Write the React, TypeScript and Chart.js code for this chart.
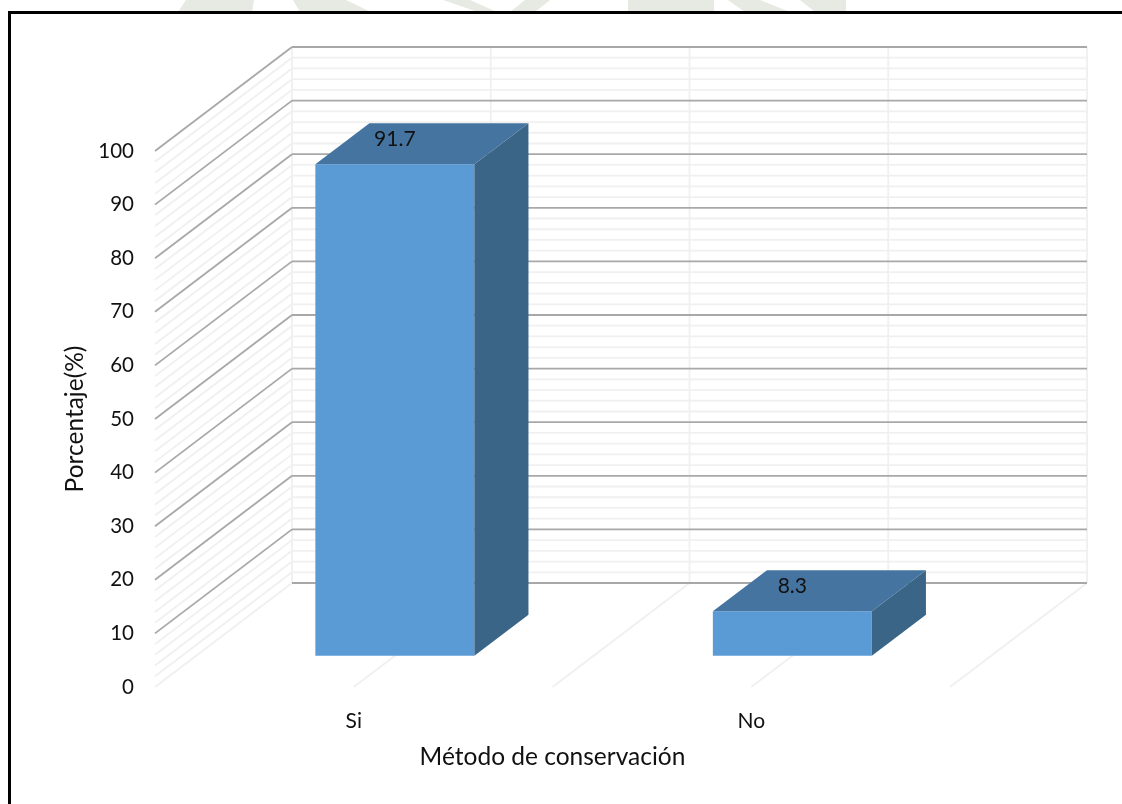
import { useEffect, useRef } from "react";
import { Chart, registerables } from "chart.js";

Chart.register(...registerables);

const categories = ["Si", "No"];
const percentages = [91.7, 8.3];
const valueMin = 0;
const valueMax = 100;
const majorStep = 10;
const minorStep = 2;
const yTitle = "Porcentaje(%)";
const xTitle = "Método de conservación";

const FONT = "Lato, Carlito, 'Open Sans', sans-serif";
const INK = "#111111";
const FRONT = "#5b9bd5";
const TOP = "#44749f";
const SIDE = "#3a6586";
const MAJOR = "#a8a8a8";
const MINOR = "#f0f0f0";

// Oblique projection of the box: depth of the whole floor, and where the bars sit in it.
const FLOOR_DX = 137;
const FLOOR_DY = 104;
const BAR_NEAR = 0.3;
const BAR_DEPTH = 0.395;

const shiftX = (f: number) => FLOOR_DX * f;
const shiftY = (f: number) => FLOOR_DY * f;

function line(ctx: CanvasRenderingContext2D, x0: number, y0: number, x1: number, y1: number) {
  ctx.beginPath();
  ctx.moveTo(x0, y0);
  ctx.lineTo(x1, y1);
  ctx.stroke();
}

function poly(ctx: CanvasRenderingContext2D, pts: number[][], fill: string) {
  ctx.fillStyle = fill;
  ctx.beginPath();
  pts.forEach(([x, y], i) => (i ? ctx.lineTo(x, y) : ctx.moveTo(x, y)));
  ctx.closePath();
  ctx.fill();
}

// Page backdrop: the faint seal showing above the frame, and the frame's top and left rules.
function drawBackdrop(ctx: CanvasRenderingContext2D, width: number, height: number) {
  ctx.fillStyle = "#ffffff";
  ctx.fillRect(0, 0, width, height);
  const seal = "#e6eae3";
  poly(ctx, [[178, 12], [186, 0], [254, 0], [252, 12]], seal);
  poly(ctx, [[293, 0], [346, 0], [371, 12], [300, 12]], seal);
  poly(ctx, [[443, 0], [470, 0], [497, 12], [478, 12]], seal);
  poly(ctx, [[525, 0], [550, 0], [535, 12], [510, 12]], seal);
  poly(ctx, [[628, 0], [714, 0], [714, 12], [628, 12]], seal);
  poly(ctx, [[728, 0], [760, 0], [790, 12], [745, 12]], seal);
  poly(ctx, [[800, 0], [846, 0], [846, 12], [815, 12]], seal);
  ctx.fillStyle = "#000000";
  ctx.fillRect(8, 11, width - 8, 3);
  ctx.fillRect(8, 11, 3, height - 11);
}

const box3d = {
  id: "box3d",
  beforeDraw(chart: any) {
    const { ctx, width, height, scales } = chart;
    const x = scales.x;
    const y = scales.y;
    drawBackdrop(ctx, width, height);

    const dx = shiftX(1);
    const dy = shiftY(1);
    const y0 = y.getPixelForValue(valueMin);
    const half = (x.getPixelForValue(1) - x.getPixelForValue(0)) / 2;
    const stops: number[] = [];
    for (let i = 0; i <= categories.length * 2; i++) stops.push(x.left + half * i);

    ctx.save();
    ctx.lineWidth = 1.8;

    // Minor rules on the side wall and the back wall.
    ctx.strokeStyle = MINOR;
    for (let v = valueMin; v <= valueMax; v += minorStep) {
      if (v % majorStep === 0) continue;
      const py = y.getPixelForValue(v);
      line(ctx, x.left, py, x.left + dx, py - dy);
      line(ctx, x.left + dx, py - dy, x.right + dx, py - dy);
    }
    // Floor lines and the uprights on the back wall.
    stops.forEach((sx) => {
      line(ctx, sx, y0, sx + dx, y0 - dy);
      line(ctx, sx + dx, y0 - dy, sx + dx, y.getPixelForValue(valueMax) - dy);
    });
    // Major rules; the zero rule shows on the back wall only.
    ctx.strokeStyle = MAJOR;
    for (let v = valueMin; v <= valueMax; v += majorStep) {
      const py = y.getPixelForValue(v);
      if (v !== valueMin) line(ctx, x.left, py, x.left + dx, py - dy);
      line(ctx, x.left + dx, py - dy, x.right + dx, py - dy);
    }
    ctx.restore();
  },
  beforeDatasetDraw(chart: any) {
    // The native bars are the front faces, moved part-way into the floor.
    chart.ctx.save();
    chart.ctx.translate(shiftX(BAR_NEAR), -shiftY(BAR_NEAR));
  },
  afterDatasetDraw(chart: any, args: any) {
    const { ctx } = chart;
    const dx = shiftX(BAR_DEPTH);
    const dy = shiftY(BAR_DEPTH);
    const bars = chart.getDatasetMeta(args.index).data;
    bars.forEach((bar: any, i: number) => {
      const { x, y, base, width } = bar.getProps(["x", "y", "base", "width"], true);
      const l = x - width / 2;
      const r = x + width / 2;
      poly(ctx, [[r, y], [r + dx, y - dy], [r + dx, base - dy], [r, base]], SIDE);
      poly(ctx, [[l, y], [l + dx, y - dy], [r + dx, y - dy], [r, y]], TOP);
      ctx.fillStyle = INK;
      ctx.font = `21px ${FONT}`;
      ctx.textAlign = "center";
      ctx.textBaseline = "middle";
      ctx.fillText(percentages[i].toFixed(1), x, y - 25);
    });
    ctx.restore();
  },
};

export default function App() {
  const canvasRef = useRef<HTMLCanvasElement>(null);

  useEffect(() => {
    document.body.style.margin = "0";
    const chart = new Chart(canvasRef.current!, {
      type: "bar",
      data: {
        labels: categories,
        datasets: [
          {
            data: percentages,
            backgroundColor: FRONT,
            barPercentage: 0.4,
            categoryPercentage: 1,
            clip: false,
          } as any,
        ],
      },
      plugins: [box3d as any],
      options: {
        responsive: false,
        animation: false,
        layout: { padding: { left: 60, right: 172, top: 151, bottom: 32 } },
        plugins: { legend: { display: false }, tooltip: { enabled: false } },
        scales: {
          x: {
            type: "category",
            offset: true,
            grid: { display: false, drawTicks: false },
            border: { display: false },
            ticks: {
              color: INK,
              padding: 22,
              maxRotation: 0,
              font: { family: FONT, size: 21 },
            },
            title: {
              display: true,
              text: xTitle,
              color: INK,
              padding: 0,
              font: { family: FONT, size: 24.5 },
            },
            afterFit(scale: any) {
              scale.height = 85;
            },
          },
          y: {
            type: "linear",
            min: valueMin,
            max: valueMax,
            grid: { display: false, drawTicks: false },
            border: { display: false },
            ticks: {
              stepSize: majorStep,
              autoSkip: false,
              color: INK,
              padding: 21,
              font: { family: FONT, size: 20.5 },
            },
            title: {
              display: true,
              text: yTitle,
              color: INK,
              padding: 0,
              font: { family: FONT, size: 24.5 },
            },
            afterFit(scale: any) {
              scale.width = 95;
            },
          },
        },
      },
    });
    return () => chart.destroy();
  }, []);

  return <canvas ref={canvasRef} width={1122} height={804} style={{ display: "block" }} />;
}
